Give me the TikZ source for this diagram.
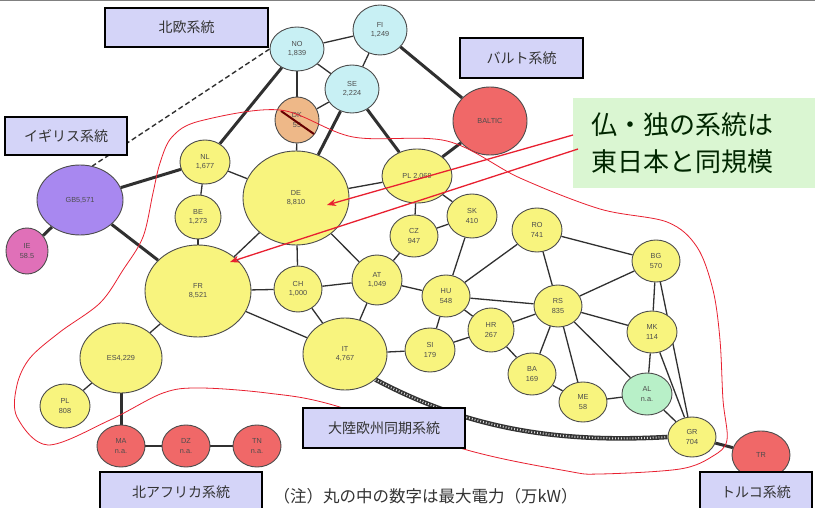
\documentclass[tikz,border=0pt]{standalone}
\usepackage{fontspec}
\setmainfont{Liberation Sans}
\newfontfamily\jp{Noto Sans CJK JP}
\usetikzlibrary{shapes.geometric,arrows.meta}
\definecolor{cyanfill}{HTML}{C8F0F4}
\definecolor{yel}{HTML}{F8F47E}
\definecolor{redfill}{HTML}{F06868}
\definecolor{purp}{HTML}{A888F0}
\definecolor{pinkfill}{HTML}{E070B8}
\definecolor{orng}{HTML}{EEB888}
\definecolor{grn}{HTML}{B8F0C8}
\definecolor{lav}{HTML}{D4D4F8}
\definecolor{greenbox}{HTML}{DAF6D2}
\definecolor{edgec}{HTML}{303030}
\definecolor{redline}{HTML}{E82030}
\pgfdeclarelayer{bg}
\pgfdeclarelayer{edges}
\pgfdeclarelayer{top}
\pgfsetlayers{bg,edges,main,top}
\tikzset{
  cty/.style={ellipse, draw=black!70, line width=0.9pt, inner sep=0pt, align=center,
    font=\fontsize{7.3}{9.5}\selectfont, text=black!70},
  thinedge/.style={draw=edgec, line width=1.3pt},
  thickedge/.style={draw=edgec, line width=3pt},
  sysbox/.style={draw=black, line width=1.2pt, fill=lav, inner sep=0pt,
    font=\jp\fontsize{14}{16}\selectfont, text=black!80},
  redarrow/.style={draw=redline, line width=1.3pt, -{Stealth[length=9pt,width=7pt]}},
}
\begin{document}
\begin{tikzpicture}[x=1pt,y=-1pt]
\clip (0,0) rectangle (815,508);
\begin{pgfonlayer}{bg}
\fill[white] (0,0) rectangle (815,508);
\draw[gray, line width=1.5pt] (0,0.7) -- (815,0.7);
\fill[greenbox] (573,98) rectangle (815,188);
\end{pgfonlayer}

% nodes
\node[cty, fill=cyanfill, minimum width=54pt, minimum height=44pt] (NO) at (297,49) {NO\\1,839};
\node[cty, fill=cyanfill, minimum width=54pt, minimum height=50pt] (FI) at (380,30) {FI\\1,249};
\node[cty, fill=cyanfill, minimum width=54pt, minimum height=48pt] (SE) at (352,89) {SE\\2,224};
\node[cty, fill=orng, minimum width=44pt, minimum height=46pt] (DK) at (297,120) {DK\\55};
\node[cty, fill=redfill, minimum width=74pt, minimum height=68pt] (BALTIC) at (490,121) {BALTIC};
\node[cty, fill=purp, minimum width=86pt, minimum height=70pt] (GB) at (80,200) {GB5,571};
\node[cty, fill=pinkfill, minimum width=42pt, minimum height=46pt] (IE) at (27,251) {IE\\58.5};
\node[cty, fill=yel, minimum width=50pt, minimum height=44pt] (NL) at (205,162) {NL\\1,677};
\node[cty, fill=yel, minimum width=46pt, minimum height=44pt] (BE) at (198,217) {BE\\1,273};
\node[cty, fill=yel, minimum width=106pt, minimum height=92pt] (FR) at (198,291) {FR\\8,521};
\node[cty, fill=yel, minimum width=106pt, minimum height=94pt] (DE) at (296,198) {DE\\8,810};
\node[cty, fill=yel, minimum width=70pt, minimum height=54pt] (PL) at (417,176) {PL 2,069};
\node[cty, fill=yel, minimum width=48pt, minimum height=42pt] (CZ) at (414,236) {CZ\\947};
\node[cty, fill=yel, minimum width=50pt, minimum height=44pt] (SK) at (472,216) {SK\\410};
\node[cty, fill=yel, minimum width=48pt, minimum height=46pt] (CH) at (298,289) {CH\\1,000};
\node[cty, fill=yel, minimum width=50pt, minimum height=50pt] (AT) at (377,280) {AT\\1,049};
\node[cty, fill=yel, minimum width=48pt, minimum height=42pt] (HU) at (446,296) {HU\\548};
\node[cty, fill=yel, minimum width=46pt, minimum height=44pt] (HR) at (491,330) {HR\\267};
\node[cty, fill=yel, minimum width=50pt, minimum height=44pt] (SI) at (430,350) {SI\\179};
\node[cty, fill=yel, minimum width=84pt, minimum height=72pt] (IT) at (345,354) {IT\\4,767};
\node[cty, fill=yel, minimum width=50pt, minimum height=44pt] (RO) at (537,230) {RO\\741};
\node[cty, fill=yel, minimum width=48pt, minimum height=42pt] (BG) at (656,261) {BG\\570};
\node[cty, fill=yel, minimum width=48pt, minimum height=42pt] (RS) at (558,306) {RS\\835};
\node[cty, fill=yel, minimum width=50pt, minimum height=42pt] (MK) at (652,332) {MK\\114};
\node[cty, fill=yel, minimum width=48pt, minimum height=42pt] (BA) at (532,374) {BA\\169};
\node[cty, fill=yel, minimum width=48pt, minimum height=40pt] (ME) at (583,402) {ME\\58};
\node[cty, fill=grn, minimum width=50pt, minimum height=42pt] (AL) at (647,394) {AL\\n.a.};
\node[cty, fill=yel, minimum width=48pt, minimum height=40pt] (GR) at (692,437) {GR\\704};
\node[cty, fill=redfill, minimum width=58pt, minimum height=48pt] (TR) at (761,455) {TR};
\node[cty, fill=yel, minimum width=82pt, minimum height=70pt] (ES) at (121,358) {ES4,229};
\node[cty, fill=yel, minimum width=50pt, minimum height=44pt] (PT) at (65,406) {PL\\808};
\node[cty, fill=redfill, minimum width=48pt, minimum height=42pt] (MA) at (121,446) {MA\\n.a.};
\node[cty, fill=redfill, minimum width=48pt, minimum height=42pt] (DZ) at (186,446) {DZ\\n.a.};
\node[cty, fill=redfill, minimum width=48pt, minimum height=42pt] (TN) at (257,446) {TN\\n.a.};

% edges
\begin{pgfonlayer}{edges}
\foreach \a/\b in {NO/FI, NO/SE, FI/SE, NO/DK, DK/SE, DK/DE, NL/BE, NL/DE, BE/FR, FR/DE,
  FR/CH, FR/IT, FR/ES, DE/CH, DE/AT, DE/PL, PL/CZ, PL/SK, CZ/SK, CZ/AT, SK/HU, AT/CH,
  AT/HU, AT/IT, CH/IT, HU/SI, HU/HR, HU/RO, HU/RS, SI/HR, SI/IT, HR/RS, HR/BA, RO/BG,
  RO/RS, RS/BG, RS/MK, RS/BA, RS/ME, RS/AL, BA/ME, ME/AL, MK/BG, MK/AL, MK/GR, AL/GR,
  BG/GR, ES/PT, MA/DZ, DZ/TN}
  \draw[thinedge] (\a) -- (\b);
\foreach \a/\b in {NO/NL, FI/BALTIC, SE/DE, SE/PL, BALTIC/PL, GB/NL, GB/FR, GB/IE, GR/TR, ES/MA}
  \draw[thickedge] (\a) -- (\b);
\draw[draw=edgec, line width=1.4pt, dash pattern=on 5pt off 3pt] (NO.west) -- (GB.70);
\draw[draw=black!80, line width=4.6pt] (IT.-40) .. controls (470,430) and (560,443) .. (GR.west);
\draw[draw=white!85!black, line width=2pt, dash pattern=on 0.9pt off 2pt] (IT.-40) .. controls (470,430) and (560,443) .. (GR.west);
\end{pgfonlayer}

\begin{pgfonlayer}{top}
% DK strike
\coordinate (dka) at (281,111);
\coordinate (dkb) at (314,134);
\draw[draw=black!60!red, line width=2pt] (dka) -- (dkb);
% continental outline
\draw[redline, line width=0.8pt] plot[smooth cycle, tension=0.55] coordinates {
 (280,110) (353,137) (447,141) (520,178) (600,209) (667,222) (697,247) (713,290)
 (720,340) (723,400) (727,440) (713,456) (680,469) (600,474) (567,471) (467,450)
 (333,405) (267,393) (200,388) (163,393) (110,420) (48,445) (17,417) (17,385)
 (30,358) (60,332) (100,303) (123,270) (143,237) (153,193) (160,163) (172,137) (200,121)};
% arrows
\coordinate (a1s) at (573,135);
\coordinate (a1e) at (327,205);
\coordinate (a2s) at (578,149);
\coordinate (a2e) at (230,262);
\draw[redarrow] (a1s) -- (a1e);
\draw[redarrow] (a2s) -- (a2e);
% label boxes
\node[sysbox, minimum width=163pt, minimum height=39pt] (bNorth) at (186.5,27.5) {北欧系統};
\node[sysbox, minimum width=122pt, minimum height=38pt] (bUK) at (66,136) {イギリス系統};
\node[sysbox, minimum width=123pt, minimum height=40pt] (bBaltic) at (521.5,58) {バルト系統};
\node[sysbox, minimum width=162pt, minimum height=40pt] (bCont) at (384,428) {大陸欧州同期系統};
\node[sysbox, minimum width=162pt, minimum height=40pt] (bAfr) at (181,492) {北アフリカ系統};
\node[sysbox, minimum width=112pt, minimum height=40pt] (bTurk) at (756,492) {トルコ系統};
% message
\node[anchor=west, align=left, font=\jp\fontsize{26}{37}\selectfont, text=black!85!green] (msg) at (588,143) {仏・独の系統は\\東日本と同規模};
% note
\node[anchor=west, font=\jp\fontsize{16.5}{18}\selectfont, text=black!80] (note) at (270,496) {（注）丸の中の数字は最大電力（万kW）};
\end{pgfonlayer}
\end{tikzpicture}
\end{document}
